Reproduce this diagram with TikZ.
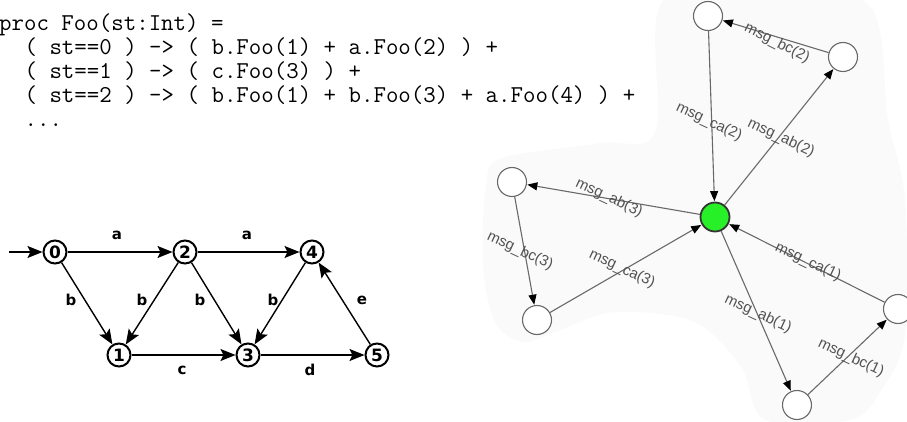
\documentclass[tikz,border=0pt]{standalone}
\usepackage{fontspec}
\newfontfamily\lblfont{DejaVu Sans}
\newfontfamily\msgfont{Liberation Sans}
\usetikzlibrary{arrows.meta}
\definecolor{brightgreen}{RGB}{40,240,40}
\definecolor{edgegray}{RGB}{105,105,105}
\definecolor{blobgray}{RGB}{250,250,250}
\tikzset{
  code/.style={anchor=base west, inner sep=0pt, font=\fontsize{24.2}{24}\ttfamily},
  state/.style={circle, draw=black, line width=2pt, minimum size=23pt, inner sep=0pt, font=\fontsize{17}{17}\lblfont\bfseries},
  lbl/.style={inner sep=0pt, font=\fontsize{15}{15}\lblfont\bfseries},
  fsa/.style={line width=1.4pt, -{Stealth[length=15pt,width=12pt,inset=3pt]}},
  wnode/.style={circle, draw=edgegray, line width=1.1pt, fill=white, minimum size=29pt, inner sep=0pt},
  gnode/.style={circle, draw=black!80, line width=1.8pt, fill=brightgreen, minimum size=29pt, inner sep=0pt},
  msg/.style={draw=edgegray, line width=1.1pt, -{Triangle[length=10pt,width=8pt,color=black]}, shorten >=0.5pt},
  mlbl/.style={inner sep=0pt, text=black!68, font=\fontsize{15}{15}\msgfont}
}
\begin{document}
\begin{tikzpicture}[x=1pt,y=-1pt]
\useasboundingbox (0,0) rectangle (907,422);
% background blob of the right graph
\fill[blobgray] plot[smooth cycle, tension=0.55] coordinates {
  (662,2) (760,0) (868,4) (888,120) (905,200) (905,335) (880,392) (850,420)
  (765,420) (742,368) (702,326) (660,314) (607,313) (560,330) (523,342)
  (495,322) (483,265) (486,185) (502,158) (600,143) (655,132)};

% code
\node[code] (l1) at (-1,31) {proc Foo(st:Int) =};
\node[code] (l2) at (24.4,55) {( st==0 ) -> ( b.Foo(1) + a.Foo(2) ) +};
\node[code] (l3) at (24.4,79) {( st==1 ) -> ( c.Foo(3) ) +};
\node[code] (l4) at (24.4,103) {( st==2 ) -> ( b.Foo(1) + b.Foo(3) + a.Foo(4) ) +};
\node[code] (l5) at (24.4,127) {...};

% automaton
\node[state] (s0) at (55,252) {0};
\node[state] (s2) at (185,252) {2};
\node[state] (s4) at (312,252) {4};
\node[state] (s1) at (119,355) {1};
\node[state] (s3) at (248,355) {3};
\node[state] (s5) at (377,355) {5};
\coordinate (start) at (9,252);
\draw[fsa] (start) -- (s0);
\draw[fsa] (s0) -- (s2);
\draw[fsa] (s2) -- (s4);
\draw[fsa] (s0) -- (s1);
\draw[fsa] (s2) -- (s1);
\draw[fsa] (s2) -- (s3);
\draw[fsa] (s4) -- (s3);
\draw[fsa] (s5) -- (s4);
\draw[fsa] (s1) -- (s3);
\draw[fsa] (s3) -- (s5);
\node[lbl] (la1) at (117,235) {a};
\node[lbl] (la2) at (247,235) {a};
\node[lbl] (lb1) at (71,300) {b};
\node[lbl] (lb2) at (142,300) {b};
\node[lbl] (lb3) at (200,300) {b};
\node[lbl] (lb4) at (273,300) {b};
\node[lbl] (le) at (362,300) {e};
\node[lbl] (lc) at (182,370) {c};
\node[lbl] (ld) at (310,370) {d};

% message graph
\node[wnode] (rt) at (708,16) {};
\node[wnode] (rtr) at (843,57) {};
\node[gnode] (rg) at (715,217) {};
\node[wnode] (rl) at (512,182) {};
\node[wnode] (rlb) at (537,320) {};
\node[wnode] (rr) at (898,309) {};
\node[wnode] (rb) at (797,405) {};
\draw[msg] (rt) -- (rg);
\draw[msg] (rg) -- (rtr);
\draw[msg] (rtr) -- (rt);
\draw[msg] (rg) -- (rl);
\draw[msg] (rl) -- (rlb);
\draw[msg] (rlb) -- (rg);
\draw[msg] (rg) -- (rb);
\draw[msg] (rb) -- (rr);
\draw[msg] (rr) -- (rg);
\node[mlbl, rotate=-27] (m1) at (777,43) {msg\_bc(2)};
\node[mlbl, rotate=-25] (m2) at (709,122) {msg\_ca(2)};
\node[mlbl, rotate=-25] (m3) at (781,138) {msg\_ab(2)};
\node[mlbl, rotate=-25] (m4) at (609,198) {msg\_ab(3)};
\node[mlbl, rotate=-25] (m5) at (520,251) {msg\_bc(3)};
\node[mlbl, rotate=-25] (m6) at (622,269) {msg\_ca(3)};
\node[mlbl, rotate=-25] (m7) at (808,262) {msg\_ca(1)};
\node[mlbl, rotate=-25] (m8) at (758,314) {msg\_ab(1)};
\node[mlbl, rotate=-25] (m9) at (851,358) {msg\_bc(1)};
\end{tikzpicture}
\end{document}
